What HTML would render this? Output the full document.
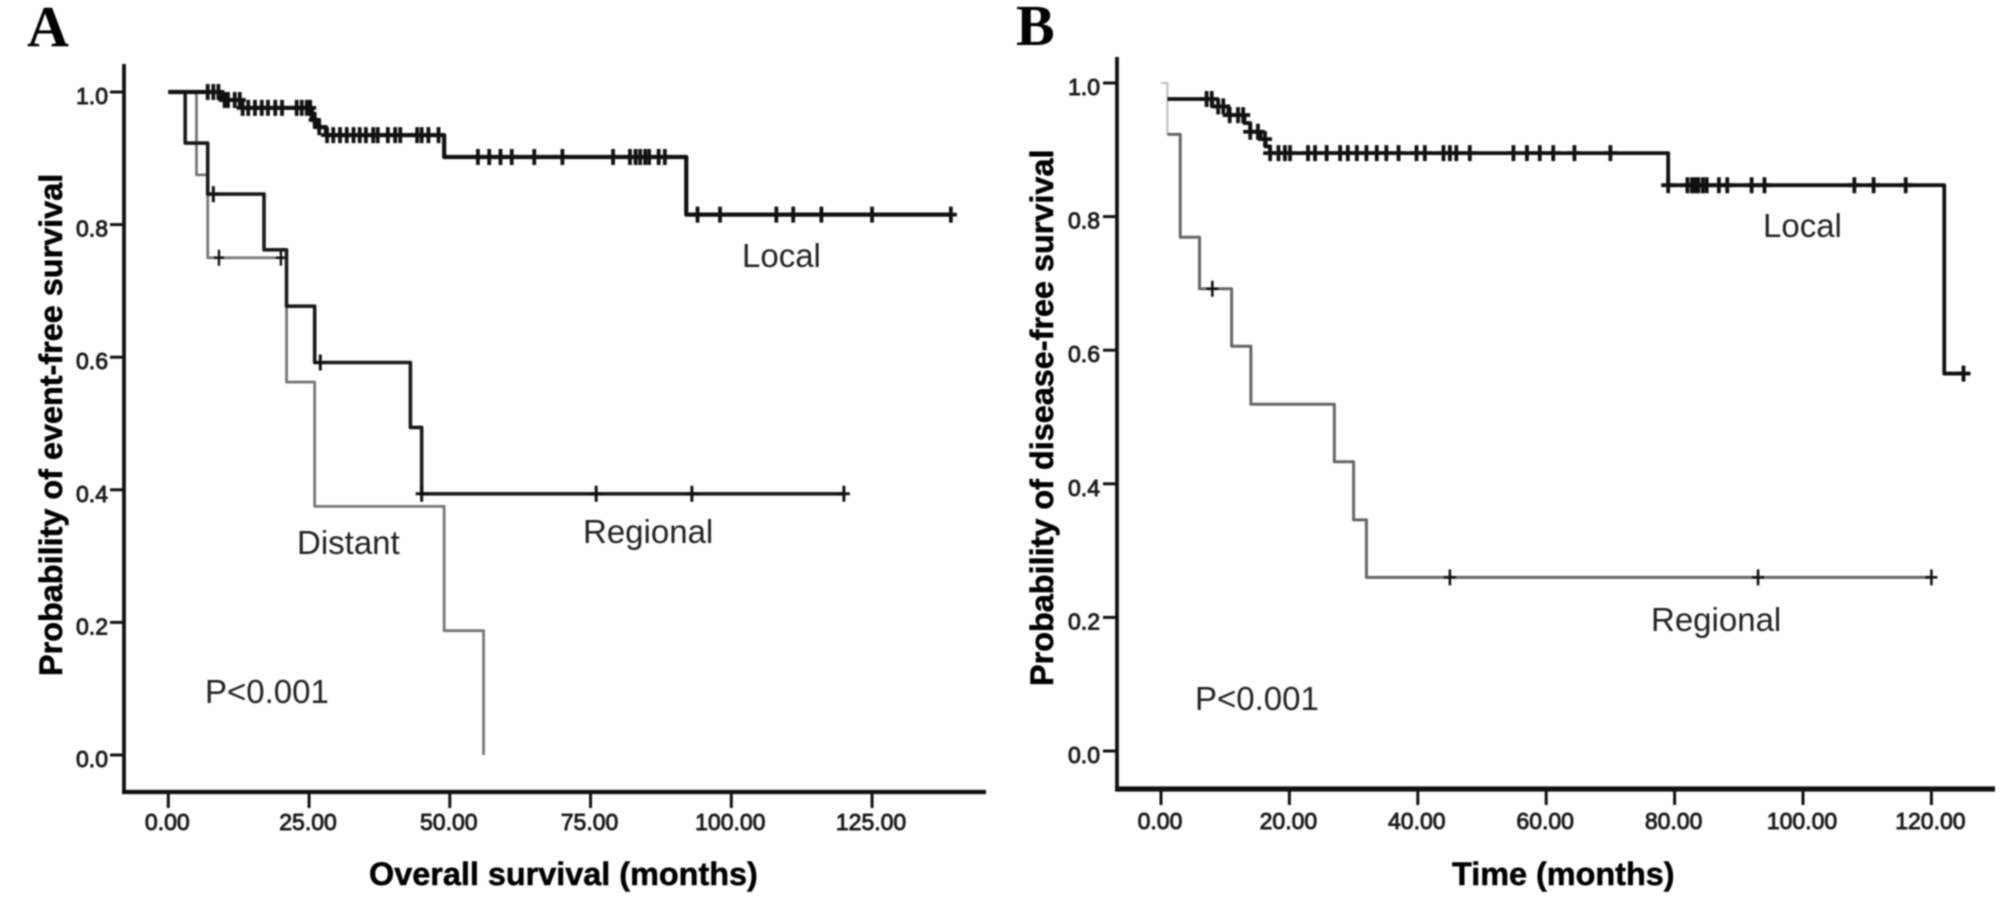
<!DOCTYPE html>
<html lang="en">
<head>
<meta charset="utf-8">
<title>Kaplan-Meier survival curves</title>
<style>
html,body{margin:0;padding:0;background:#fff;}
body{width:2008px;height:907px;overflow:hidden;}
svg{display:block;filter:blur(0.8px);}
text{font-family:"Liberation Sans",sans-serif;fill:#1c1c1c;}
.tick{font-size:23px;stroke:#1c1c1c;stroke-width:.9px;}
.title{font-size:32.4px;font-weight:bold;fill:#000;stroke:#000;stroke-width:.5px;}
.note{font-size:33px;fill:#222;}
.letter{font-family:"Liberation Serif",serif;font-size:58px;font-weight:bold;fill:#000;}
</style>
</head>
<body>
<svg id="fig" xmlns="http://www.w3.org/2000/svg" width="2008" height="907" viewBox="0 0 2008 907">
  <rect x="0" y="0" width="2008" height="907" fill="#fff"/>
  <g id="panelA"></g>
  <g id="panelB"></g>

  <text class="letter" x="27" y="46">A</text>
  <text class="letter" x="1016" y="45">B</text>

  <text class="title" transform="translate(62,676) rotate(-90)">Probability of event-free survival</text>
  <text class="title" x="369" y="885">Overall survival (months)</text>
  <text class="title" transform="translate(1053,686) rotate(-90)">Probability of disease-free survival</text>
  <text class="title" x="1452" y="885">Time (months)</text>

  <text class="note" x="742" y="267">Local</text>
  <text class="note" x="297" y="554">Distant</text>
  <text class="note" x="583" y="543">Regional</text>
  <text class="note" x="205" y="703">P&lt;0.001</text>
  <text class="note" x="1763" y="237">Local</text>
  <text class="note" x="1651" y="631">Regional</text>
  <text class="note" x="1195" y="710">P&lt;0.001</text>
</svg>

<script>
// ---------- Panel A data ----------
var aXTicks = [0, 25, 50, 75, 100, 125];
var aYTicks = [0, 0.2, 0.4, 0.6, 0.8, 1.0];

var aLocalTimes = [0, 9.5, 13, 25.5, 26.5, 28, 49, 92, 139];
var aLocalSurvival = [1, 0.988, 0.976, 0.958, 0.947, 0.935, 0.902, 0.815, 0.815];
var aLocalCensored = [7, 8, 8.9, 10, 10.6, 11.8, 12.7, 13.2, 14.2, 15.4, 16.6, 17.7, 19, 20.2, 22.8, 23.7, 24.6, 25.2, 26, 26.8, 28.2, 29.3, 30.5, 31.7, 32.9, 34, 35.1, 36.4, 37.2, 39, 40.3, 41.2, 44.2, 45, 46.2, 48, 55, 57, 59, 61, 65, 70, 79, 82, 83, 83.8, 84.7, 85.4, 87.1, 88.2, 94, 98, 108, 111, 116, 125, 139];

var aRegionalTimes = [0, 3, 7, 17, 21, 26, 43, 45, 120];
var aRegionalSurvival = [1, 0.923, 0.846, 0.762, 0.677, 0.592, 0.494, 0.394, 0.394];
var aRegionalCensored = [8, 27, 45, 76, 93, 120];

var aDistantTimes = [0, 5, 7, 21, 26, 49, 56];
var aDistantSurvival = [1, 0.875, 0.75, 0.5625, 0.375, 0.1875, 0];
var aDistantCensored = [9, 20];

// ---------- Panel B data ----------
var bXTicks = [0, 20, 40, 60, 80, 100, 120];
var bYTicks = [0, 0.2, 0.4, 0.6, 0.8, 1.0];

var bLocalTimes = [1, 8, 10.5, 13, 13.9, 15.5, 16.3, 17, 79, 122, 125];
var bLocalSurvival = [0.976, 0.965, 0.952, 0.94, 0.927, 0.916, 0.905, 0.895, 0.847, 0.565, 0.565];
var bLocalCensored = [7.1, 7.9, 8.9, 9.7, 10.7, 12, 12.8, 13.9, 15.1, 16.2, 17, 18.3, 19.3, 20.1, 22.9, 24, 25.8, 27.9, 29.1, 30.5, 32, 33.6, 35.1, 37, 39.8, 41.1, 44, 45, 46, 48.1, 54.9, 57, 59, 61.1, 64.4, 70, 79, 82, 82.7, 83.2, 83.7, 84.4, 85, 86.9, 88.2, 92, 94, 108, 111, 116, 125];

var bRegionalTimes = [0, 1, 3, 6, 11, 14, 27, 30, 32, 120];
var bRegionalSurvival = [1, 0.923, 0.769, 0.692, 0.606, 0.519, 0.433, 0.346, 0.26, 0.26];
var bRegionalCensored = [8, 45, 93, 120];

// ---------- Axis functions ----------
function aX(v) { return 168.3 + v * 5.63; }
function aY(v) { return 755 - v * 663; }
function bX(v) { return 1161 + v * 6.42; }
function bY(v) { return 751 - v * 668; }

var NS = 'http://www.w3.org/2000/svg';

function make(tag, attrs, parent) {
  var node = document.createElementNS(NS, tag);
  for (var k in attrs) { node.setAttribute(k, attrs[k]); }
  parent.appendChild(node);
  return node;
}

function survivalAt(times, surv, t) {
  var s = surv[0];
  for (var i = 0; i < times.length; i++) {
    if (times[i] <= t) { s = surv[i]; }
  }
  return s;
}

function stepPath(times, surv, fx, fy, from, to) {
  var d = 'M' + fx(times[from]) + ' ' + fy(surv[from]);
  for (var i = from + 1; i <= to; i++) {
    d += ' H' + fx(times[i]) + ' V' + fy(surv[i]);
  }
  return d;
}

function drawCurve(parent, name, times, surv, censored, fx, fy, color, width, fadeFirst, markWidth, markArm) {
  var start = fadeFirst ? 1 : 0;
  if (fadeFirst) {
    var faded = make('path', { d: stepPath(times, surv, fx, fy, 0, 1), fill: 'none', stroke: '#c4c4c4', 'stroke-width': 2.2 }, parent);
    
    
  }
  var line = make('path', { d: stepPath(times, surv, fx, fy, start, times.length - 1), fill: 'none', stroke: color, 'stroke-width': width, 'stroke-linejoin': 'round' }, parent);
  
  
  censored.forEach(function (t) {
    var s = survivalAt(times, surv, t);
    var x = fx(t), y = fy(s);
    var mark = make('path', { d: 'M' + x + ' ' + (y - 8) + ' V' + (y + 8) + ' M' + (x - markArm) + ' ' + y + ' H' + (x + markArm), fill: 'none', stroke: '#111', 'stroke-width': markWidth }, parent);
    
    
  });
}

function drawAxes(parent, prefix, xTicks, yTicks, fx, fy, spineX, spineTop, axisY, axisRight, axisW, labelGapY, yLabelRight) {
  var ySpine = make('line', { x1: spineX, x2: spineX, y1: spineTop, y2: axisY, stroke: '#111', 'stroke-width': 3.8 }, parent);
  
  
  var xSpine = make('line', { x1: spineX - 2, x2: axisRight, y1: axisY, y2: axisY, stroke: '#111', 'stroke-width': axisW }, parent);
  
  
  xTicks.forEach(function (v) {
    var x = fx(v);
    var tick = make('line', { x1: x, x2: x, y1: axisY, y2: axisY + 16, stroke: '#111', 'stroke-width': 3 }, parent);
    
    
    var label = make('text', { x: x - 1, y: labelGapY, 'text-anchor': 'middle', 'class': 'tick' }, parent);
    label.textContent = v.toFixed(2);
    
    
  });
  yTicks.forEach(function (v) {
    var y = fy(v);
    var tick = make('line', { x1: spineX - 14, x2: spineX, y1: y, y2: y, stroke: '#111', 'stroke-width': 3 }, parent);
    
    
    var label = make('text', { x: yLabelRight, y: y + 12, 'text-anchor': 'end', 'class': 'tick' }, parent);
    label.textContent = v.toFixed(1);
    
    
  });
}

var panelA = document.getElementById('panelA');
drawAxes(panelA, 'panel-a', aXTicks, aYTicks, aX, aY, 124, 64, 792, 986, 4.2, 830, 108);
drawCurve(panelA, 'panel-a-distant', aDistantTimes, aDistantSurvival, aDistantCensored, aX, aY, '#777', 2.8, false, 2.4, 5);
drawCurve(panelA, 'panel-a-regional', aRegionalTimes, aRegionalSurvival, aRegionalCensored, aX, aY, '#1a1a1a', 3.6, false, 3, 6);
drawCurve(panelA, 'panel-a-local', aLocalTimes, aLocalSurvival, aLocalCensored, aX, aY, '#111', 4.2, false, 3.8, 6);

var panelB = document.getElementById('panelB');
drawAxes(panelB, 'panel-b', bXTicks, bYTicks, bX, bY, 1117, 57, 789, 1995, 5.2, 829, 1100);
drawCurve(panelB, 'panel-b-regional', bRegionalTimes, bRegionalSurvival, bRegionalCensored, bX, bY, '#666', 3, true, 2.6, 6);
drawCurve(panelB, 'panel-b-local', bLocalTimes, bLocalSurvival, bLocalCensored, bX, bY, '#111', 3.8, false, 3.8, 7);
</script>
</body>
</html>
